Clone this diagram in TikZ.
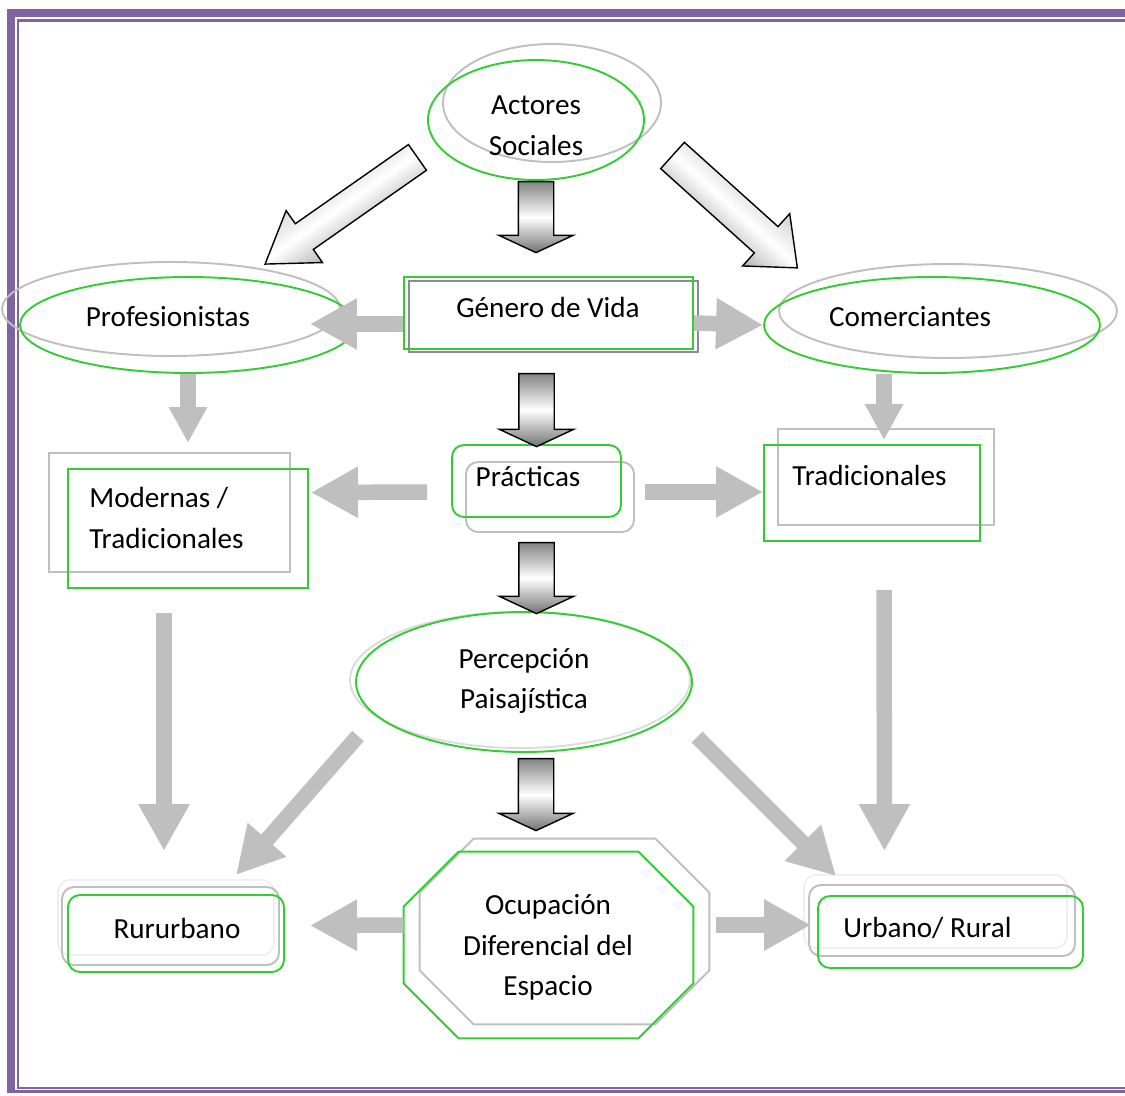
\documentclass[tikz,border=0pt]{standalone}
\usepackage{fontspec}
\setmainfont{Carlito}
\usepackage{xcolor}
\usepackage{tikz}
\usetikzlibrary{calc,arrows.meta,shapes.geometric,shapes.arrows}
\definecolor{marco}{HTML}{8064A2}
\definecolor{verde}{HTML}{33CC33}
\definecolor{gris}{HTML}{BFBFBF}
\definecolor{grisc}{HTML}{DCDCDC}
\definecolor{grisx}{HTML}{EFEFEF}
\definecolor{grisd}{HTML}{8C8C8C}
\tikzset{
  vd/.style={draw=verde, line width=1.1pt},
  gr/.style={draw=gris, line width=1.1pt},
  elip/.style={ellipse, inner sep=0pt},
  caja/.style={rectangle, inner sep=0pt},
  redon/.style={rectangle, rounded corners=0.24cm, inner sep=0pt},
  lab/.style={text=black, font=\fontsize{16.6}{23.2}\selectfont, align=center, inner sep=0pt},
  flecha/.style={draw=gris, line width=0.31cm, -{Triangle[length=0.94cm,width=0.96cm]}},
  flechac/.style={draw=gris, line width=0.31cm, -{Triangle[length=0.72cm,width=0.72cm]}},
  bloque/.style={single arrow, draw=black, line width=0.8pt, inner xsep=0pt, anchor=tail},
  bloqv/.style={bloque, rotate=-90, inner ysep=0.34cm, single arrow head extend=0.39cm, single arrow tip angle=130,
    top color=black!48, bottom color=black!55, middle color=white},
  bloqd/.style={bloque, top color=black!35, bottom color=black!55, middle color=white},
}

\begin{document}
\begin{tikzpicture}[x=0.02cm, y=-0.02cm]
  \useasboundingbox (0,0) rectangle (1125,1095);
  \fill[marco] (7,9) rectangle (1125,17);
  \fill[marco] (7,9) rectangle (15,1093);
  \fill[marco] (7,1090) rectangle (1125,1093);
  \draw[marco, line width=0.046cm] (1125,20.5) -- (18,20.5) -- (18,1088) -- (1125,1088);

  \node[elip, gr, minimum width=4.36cm, minimum height=2.36cm] (actoresg) at (552,103) {};
  \node[elip, vd, minimum width=4.32cm, minimum height=2.4cm] (actores) at (536,120) {};
  \node[lab] (tact) at (536,125.5) {Actores\\Sociales};

  \node[elip, gr, minimum width=6.76cm, minimum height=1.88cm] (profesg) at (171,309) {};
  \node[elip, vd, minimum width=6.72cm, minimum height=1.92cm] (profes) at (188,325) {};
  \node[lab] (tpro) at (168,317) {Profesionistas};

  \node[elip, gr, minimum width=6.76cm, minimum height=1.88cm] (comercg) at (948,311) {};
  \node[elip, vd, minimum width=6.72cm, minimum height=1.92cm] (comerc) at (932,325) {};
  \node[lab] (tcom) at (910,317) {Comerciantes};

  \node[caja, draw=grisd, line width=1.4pt, minimum width=5.78cm, minimum height=1.42cm] (generog) at (553.5,316.5) {};
  \node[caja, vd, minimum width=5.78cm, minimum height=1.44cm] (genero) at (548.5,313) {};
  \node[lab] (tgen) at (548,307) {Género de Vida};

  \node[caja, gr, minimum width=4.82cm, minimum height=2.38cm] (moderng) at (169.5,512.5) {};
  \node[caja, vd, minimum width=4.8cm, minimum height=2.38cm] (modern) at (188,528.5) {};
  \node[lab, anchor=west, align=left] (tmod) at (89,518) {Modernas /\\Tradicionales};

  \node[redon, gr, minimum width=3.36cm, minimum height=1.4cm] (practg) at (550,497) {};
  \node[redon, vd, minimum width=3.38cm, minimum height=1.44cm] (pract) at (536.5,481) {};
  \node[lab] (tpra) at (528,477) {Prácticas};

  \node[caja, gr, minimum width=4.32cm, minimum height=1.92cm] (tradicg) at (886,477) {};
  \node[caja, vd, minimum width=4.32cm, minimum height=1.92cm] (tradic) at (872,493) {};
  \node[lab, anchor=west] (ttra) at (792,475) {Tradicionales};

  \node[elip, draw=grisc, line width=1.1pt, minimum width=6.8cm, minimum height=2.72cm] (percepg) at (520,680) {};
  \node[elip, vd, minimum width=6.72cm, minimum height=2.8cm] (percep) at (524,682) {};
  \node[lab] (tper) at (524,681) {Percepción\\Paisajística};

  \node[caja, minimum width=5.78cm, minimum height=3.7cm] (ocupg) at (564.5,931.5) {};
  \node[caja, minimum width=5.78cm, minimum height=3.72cm] (ocup) at (548.5,945) {};
  \draw[gr] ($(ocupg.north west)+(54,0)$) -- ($(ocupg.north east)+(-54,0)$) -- ($(ocupg.north east)+(0,54)$)
    -- ($(ocupg.south east)+(0,-54)$) -- ($(ocupg.south east)+(-54,0)$) -- ($(ocupg.south west)+(54,0)$)
    -- ($(ocupg.south west)+(0,-54)$) -- ($(ocupg.north west)+(0,54)$) -- cycle;
  \draw[vd] ($(ocup.north west)+(55,0)$) -- ($(ocup.north east)+(-55,0)$) -- ($(ocup.north east)+(0,55)$)
    -- ($(ocup.south east)+(0,-55)$) -- ($(ocup.south east)+(-55,0)$) -- ($(ocup.south west)+(55,0)$)
    -- ($(ocup.south west)+(0,-55)$) -- ($(ocup.north west)+(0,55)$) -- cycle;
  \node[lab] (tocu) at (548,947.5) {Ocupación\\Diferencial del\\Espacio};

  \node[redon, draw=grisx, line width=1.1pt, minimum width=4.32cm, minimum height=1.5cm] (rururx) at (166,917.5) {};
  \node[redon, gr, minimum width=4.34cm, minimum height=1.56cm] (rururg) at (170.5,926) {};
  \node[redon, vd, minimum width=4.32cm, minimum height=1.54cm] (rurur) at (176,933.5) {};
  \node[lab] (trur) at (177,928) {Rururbano};

  \node[redon, draw=grisx, line width=1.1pt, minimum width=5.26cm, minimum height=1.46cm] (urbanx) at (935.5,911.5) {};
  \node[redon, gr, minimum width=5.32cm, minimum height=1.42cm] (urbang) at (942,920.5) {};
  \node[redon, vd, minimum width=5.3cm, minimum height=1.44cm] (urban) at (950.5,932) {};
  \node[lab, anchor=west] (turb) at (843,928) {Urbano/ Rural};

  \node[bloqv, minimum height=1.42cm] (b1) at (actores.south) {};
  \node[bloqv, minimum height=1.46cm] (b2) at ($(genero.south)+(-12,23)$) {};
  \node[bloqv, minimum height=1.42cm] (b3) at ($(pract.south)+(0,24)$) {};
  \node[bloqv, minimum height=1.44cm] (b4) at ($(percep.south)+(12,5)$) {};
  \node[bloqd, shading angle=35, rotate=215, minimum height=3.72cm, inner ysep=0.3cm, single arrow head extend=0.32cm, single arrow tip angle=67] (b5) at ($(actores.center)+(-118,37)$) {};
  \node[bloqd, shading angle=-42, rotate=-42, minimum height=3.36cm, inner ysep=0.34cm, single arrow head extend=0.35cm, single arrow tip angle=80] (b6) at ($(actores.center)+(136,35)$) {};

  \draw[flecha] ($(genero.west)+(0,11)$) -- ($(profes.east)+(-47,-1)$);
  \draw[flecha] ($(genero.east)+(0,10)$) -- (comerc.west);
  \draw[flechac] (profes.south) -- ($(modern.north)+(0,-25)$);
  \draw[flechac] ($(comerc.south)+(-48,0)$) -- ($(tradic.north)+(12,-4)$);
  \draw[flecha] ($(pract.west)+(-24,11)$) -- ($(modern.east)+(2,-36)$);
  \draw[flecha] ($(pract.east)+(23,11)$) -- ($(tradic.west)+(0,-1)$);
  \draw[flecha] ($(modern.south)+(-24,24)$) -- ($(rurur.north)+(-12,-43)$);
  \draw[flecha] ($(tradic.south)+(12,48)$) -- ($(urban.north)+(-66,-44)$);
  \draw[flecha] ($(percep.center)+(-166,54)$) -- ($(rurur.north)+(60,-19)$);
  \draw[flecha] ($(percep.center)+(173,55)$) -- ($(urban.north west)+(19,-19)$);
  \draw[flecha] ($(ocup.west)+(0,-20)$) -- ($(rurur.east)+(25,-8)$);
  \draw[flecha] ($(ocup.east)+(23,-20)$) -- ($(urban.west)+(-6,-7)$);
\end{tikzpicture}
\end{document}
